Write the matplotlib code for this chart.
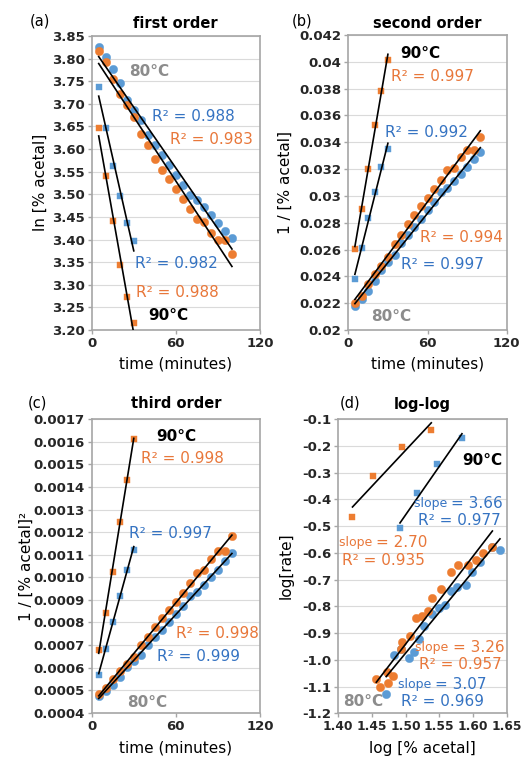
import numpy as np
import matplotlib
matplotlib.use("Agg")
import matplotlib.pyplot as plt

plt.rcParams['font.family'] = ['DejaVu Sans']

# ---------------- data ----------------
t80 = [5, 10, 15, 20, 25, 30, 35, 40, 45, 50, 55, 60, 65, 70, 75, 80, 85, 90, 95, 100]
t90 = [5, 10, 15, 20, 25, 30]

# (a) first order: ln[% acetal]
ln80_blue = [3.826, 3.803, 3.776, 3.745, 3.709, 3.686, 3.664, 3.631, 3.609, 3.587,
             3.565, 3.543, 3.521, 3.498, 3.487, 3.471, 3.454, 3.437, 3.419, 3.403]
ln80_orange = [3.817, 3.792, 3.755, 3.722, 3.697, 3.672, 3.633, 3.609, 3.578, 3.554,
               3.533, 3.511, 3.490, 3.467, 3.445, 3.439, 3.414, 3.399, 3.399, 3.369]
ln90_blue = [3.737, 3.646, 3.563, 3.496, 3.437, 3.397]
ln90_orange = [3.647, 3.541, 3.442, 3.344, 3.274, 3.215]

# (b) second order: 1/[% acetal]
inv80_blue = [0.02180, 0.02230, 0.02291, 0.02364, 0.02450, 0.02507, 0.02563, 0.02649, 0.02708, 0.02768,
              0.02830, 0.02893, 0.02957, 0.03026, 0.03059, 0.03109, 0.03162, 0.03216, 0.03275, 0.03327]
inv80_orange = [0.02199, 0.02255, 0.02340, 0.02419, 0.02480, 0.02543, 0.02644, 0.02708, 0.02793, 0.02861,
                0.02922, 0.02987, 0.03050, 0.03121, 0.03191, 0.03210, 0.03291, 0.03341, 0.03341, 0.03442]
inv90_blue = [0.02383, 0.02610, 0.02835, 0.03032, 0.03216, 0.03348]
inv90_orange = [0.02607, 0.02899, 0.03200, 0.03530, 0.03785, 0.04016]

# (c) third order: 1/[% acetal]^2
inv2_80_blue = [0.0004752, 0.0004973, 0.0005249, 0.0005588, 0.0006003, 0.0006285, 0.0006569, 0.0007017,
                0.0007333, 0.0007662, 0.0008009, 0.0008369, 0.0008744, 0.0009157, 0.0009357, 0.0009666,
                0.0009998, 0.0010343, 0.0010726, 0.0011069]
inv2_80_orange = [0.0004836, 0.0005085, 0.0005476, 0.0005852, 0.0006150, 0.0006467, 0.0006991, 0.0007333,
                  0.0007801, 0.0008185, 0.0008538, 0.0008922, 0.0009303, 0.0009741, 0.0010183, 0.0010304,
                  0.0010831, 0.0011162, 0.0011162, 0.0011847]
inv2_90_blue = [0.000568, 0.000681, 0.000804, 0.000919, 0.001034, 0.001121]
inv2_90_orange = [0.000680, 0.000840, 0.001024, 0.001246, 0.001433, 0.001613]

# (d) log-log
logc80_orange = [1.4565, 1.4624, 1.4726, 1.4735, 1.4809, 1.4932, 1.4947, 1.5065, 1.5153, 1.5241,
                 1.5338, 1.5397, 1.5521, 1.5668, 1.5779, 1.5927, 1.6044, 1.6157, 1.6290]
logr80_orange = [-1.073, -1.103, -1.044, -1.088, -1.062, -0.960, -0.932, -0.910, -0.844, -0.836,
                 -0.817, -0.770, -0.736, -0.672, -0.645, -0.645, -0.626, -0.599, -0.578]
logc80_blue = [1.4712, 1.4834, 1.4930, 1.5054, 1.5128, 1.5197, 1.5275, 1.5388, 1.5496, 1.5584,
               1.5682, 1.5765, 1.5897, 1.5985, 1.6100, 1.6280, 1.6403]
logr80_blue = [-1.128, -0.982, -0.960, -0.994, -0.969, -0.923, -0.873, -0.828, -0.807, -0.795,
               -0.741, -0.728, -0.720, -0.670, -0.635, -0.578, -0.588]
logc90_orange = [1.4211, 1.4515, 1.4946, 1.5382]
logr90_orange = [-0.464, -0.312, -0.202, -0.140]
logc90_blue = [1.4917, 1.5176, 1.5470, 1.5838]
logr90_blue = [-0.508, -0.377, -0.267, -0.171]

# tick labels
time_ticks = [0, 60, 120]
a_yticks = ['3.20', '3.25', '3.30', '3.35', '3.40', '3.45', '3.50', '3.55', '3.60', '3.65', '3.70', '3.75', '3.80', '3.85']
b_yticks = ['0.02', '0.022', '0.024', '0.026', '0.028', '0.03', '0.032', '0.034', '0.036', '0.038', '0.04', '0.042']
c_yticks = ['0.0004', '0.0005', '0.0006', '0.0007', '0.0008', '0.0009', '0.0010', '0.0011', '0.0012',
            '0.0013', '0.0014', '0.0015', '0.0016', '0.0017']
d_yticks = ['-1.2', '-1.1', '-1.0', '-0.9', '-0.8', '-0.7', '-0.6', '-0.5', '-0.4', '-0.3', '-0.2', '-0.1']
d_xticks = ['1.40', '1.45', '1.50', '1.55', '1.60', '1.65']

# ---------------- style ----------------
BLUE = '#5b9bd5'
ORANGE = '#ed7d31'
BLUE_T = '#3573c2'
ORANGE_T = '#e8773a'
GRAY_T = '#8c8c8c'
FRAME = '#a6a6a6'
GRID = '#dadada'

W, H = 523, 758
fig = plt.figure(figsize=(W / 100, H / 100), dpi=100)


def axes_px(left, top, right, bottom):
    return fig.add_axes([left / W, 1 - bottom / H, (right - left) / W, (bottom - top) / H])


def style(ax, yt_labels, xt_labels=None, xsize=9.5):
    yv = [float(s) for s in yt_labels]
    ax.set_yticks(yv)
    ax.set_yticklabels(yt_labels)
    ax.set_ylim(yv[0], yv[-1])
    if xt_labels is None:
        ax.set_xticks(time_ticks)
        ax.set_xticklabels([str(v) for v in time_ticks])
        ax.set_xlim(time_ticks[0], time_ticks[-1])
    else:
        xv = [float(s) for s in xt_labels]
        ax.set_xticks(xv)
        ax.set_xticklabels(xt_labels)
        ax.set_xlim(xv[0], xv[-1])
    ax.grid(axis='y', color=GRID, lw=0.8)
    ax.set_axisbelow(True)
    for sp in ax.spines.values():
        sp.set_color(FRAME)
        sp.set_linewidth(1.2)
    ax.tick_params(axis='both', colors=FRAME, length=3, width=1.0, pad=2,
                   labelsize=9.5, labelcolor='#262626')
    ax.tick_params(axis='x', labelsize=xsize)
    for lab in ax.get_xticklabels() + ax.get_yticklabels():
        lab.set_fontweight('bold')


def scatter(ax, x, y, color, marker):
    if marker == 'o':
        ax.plot(x, y, 'o', color=color, ms=6.0, mec=color, mew=0.3, zorder=3)
    else:
        ax.plot(x, y, 's', color=color, ms=5.0, mec=color, mew=0.3, zorder=3)


def trend(ax, x, y):
    x = np.asarray(x, float)
    y = np.asarray(y, float)
    k, b = np.polyfit(x, y, 1)
    xs = np.array([x.min(), x.max()])
    ax.plot(xs, k * xs + b, color='black', lw=1.2, zorder=4)


def txt(ax, x, y, s, color, ha='left', size=11, weight='normal'):
    ax.text(x, y, s, color=color, ha=ha, va='center', fontsize=size, fontweight=weight, zorder=5)


def panel(ax, x80, yb80, yo80, x90, yb90, yo90):
    scatter(ax, x80, yb80, BLUE, 'o')
    scatter(ax, x80, yo80, ORANGE, 'o')
    scatter(ax, x90, yb90, BLUE, 's')
    scatter(ax, x90, yo90, ORANGE, 's')
    trend(ax, x80, yb80)
    trend(ax, x80, yo80)
    trend(ax, x90, yb90)
    trend(ax, x90, yo90)


# ---------------- (a) ----------------
axa = axes_px(91.7, 36, 260, 330)
panel(axa, t80, ln80_blue, ln80_orange, t90, ln90_blue, ln90_orange)
style(axa, a_yticks)
txt(axa, 27, 3.772, '80°C', GRAY_T, weight='bold')
txt(axa, 102, 3.672, 'R² = 0.988', BLUE_T, ha='right')
txt(axa, 115, 3.621, 'R² = 0.983', ORANGE_T, ha='right')
txt(axa, 31, 3.347, 'R² = 0.982', BLUE_T)
txt(axa, 31.5, 3.282, 'R² = 0.988', ORANGE_T)
txt(axa, 40, 3.233, '90°C', 'black', weight='bold')

# ---------------- (b) ----------------
axb = axes_px(348.3, 35, 506.7, 330)
panel(axb, t80, inv80_blue, inv80_orange, t90, inv90_blue, inv90_orange)
style(axb, b_yticks)
txt(axb, 39, 0.04064, '90°C', 'black', weight='bold')
txt(axb, 32, 0.03889, 'R² = 0.997', ORANGE_T)
txt(axb, 28, 0.03474, 'R² = 0.992', BLUE_T)
txt(axb, 117, 0.02691, 'R² = 0.994', ORANGE_T, ha='right')
txt(axb, 103, 0.02485, 'R² = 0.997', BLUE_T, ha='right')
txt(axb, 17, 0.02104, '80°C', GRAY_T, weight='bold')

# ---------------- (c) ----------------
axc = axes_px(91.7, 419.3, 260, 712.7)
panel(axc, t80, inv2_80_blue, inv2_80_orange, t90, inv2_90_blue, inv2_90_orange)
style(axc, c_yticks)
txt(axc, 46, 0.001623, '90°C', 'black', weight='bold')
txt(axc, 35.5, 0.001527, 'R² = 0.998', ORANGE_T)
txt(axc, 26.5, 0.001195, 'R² = 0.997', BLUE_T)
txt(axc, 119, 0.000752, 'R² = 0.998', ORANGE_T, ha='right')
txt(axc, 106, 0.000651, 'R² = 0.999', BLUE_T, ha='right')
txt(axc, 25.5, 0.000444, '80°C', GRAY_T, weight='bold')

# ---------------- (d) ----------------
axd = axes_px(338.3, 419.3, 506.5, 713.3)
scatter(axd, logc80_blue, logr80_blue, BLUE, 'o')
scatter(axd, logc80_orange, logr80_orange, ORANGE, 'o')
scatter(axd, logc90_orange, logr90_orange, ORANGE, 's')
scatter(axd, logc90_blue, logr90_blue, BLUE, 's')
trend(axd, logc80_blue, logr80_blue)
trend(axd, logc80_orange, logr80_orange)
trend(axd, logc90_orange, logr90_orange)
trend(axd, logc90_blue, logr90_blue)
style(axd, d_yticks, d_xticks, xsize=8.8)


def slope_label(ax, xr, y, value, color):
    t = ax.text(xr, y, '= ' + value, color=color, ha='right', va='center', fontsize=11, zorder=5)
    ax.annotate('slope ', xy=(0, 0.5), xycoords=t, ha='right', va='center',
                color=color, fontsize=9, zorder=5)


txt(axd, 1.5848, -0.255, '90°C', 'black', weight='bold')
slope_label(axd, 1.645, -0.414, '3.66', BLUE_T)
txt(axd, 1.642, -0.4805, 'R² = 0.977', BLUE_T, ha='right')
slope_label(axd, 1.533, -0.562, '2.70', ORANGE_T)
txt(axd, 1.529, -0.630, 'R² = 0.935', ORANGE_T, ha='right')
slope_label(axd, 1.6466, -0.953, '3.26', ORANGE_T)
txt(axd, 1.6426, -1.019, 'R² = 0.957', ORANGE_T, ha='right')
slope_label(axd, 1.6206, -1.0915, '3.07', BLUE_T)
txt(axd, 1.6172, -1.157, 'R² = 0.969', BLUE_T, ha='right')
txt(axd, 1.4074, -1.157, '80°C', GRAY_T, weight='bold')

# ---------------- titles / labels ----------------
def ftxt(x, y, s, **kw):
    fig.text(x / W, 1 - y / H, s, **kw)


ftxt(175.8, 23, 'first order', ha='center', va='center', fontsize=10.5, fontweight='bold')
ftxt(427.5, 23, 'second order', ha='center', va='center', fontsize=10.5, fontweight='bold')
ftxt(175.8, 404, 'third order', ha='center', va='center', fontsize=10.5, fontweight='bold')
ftxt(422.4, 404, 'log-log', ha='center', va='center', fontsize=10.5, fontweight='bold')

ftxt(30, 21, '(a)', ha='left', va='center', fontsize=10.5)
ftxt(292, 21, '(b)', ha='left', va='center', fontsize=10.5)
ftxt(28, 403, '(c)', ha='left', va='center', fontsize=10.5)
ftxt(340, 403, '(d)', ha='left', va='center', fontsize=10.5)

ftxt(40, 182, 'ln [% acetal]', ha='center', va='center', rotation=90, fontsize=11)
ftxt(285, 182, '1 / [% acetal]', ha='center', va='center', rotation=90, fontsize=11)
ftxt(26, 566, '1 / [% acetal]²', ha='center', va='center', rotation=90, fontsize=11)
ftxt(286, 566, 'log[rate]', ha='center', va='center', rotation=90, fontsize=11)

ftxt(175.8, 364, 'time (minutes)', ha='center', va='center', fontsize=11)
ftxt(427.5, 364, 'time (minutes)', ha='center', va='center', fontsize=11)
ftxt(175.8, 748, 'time (minutes)', ha='center', va='center', fontsize=11)
ftxt(422.4, 748, 'log [% acetal]', ha='center', va='center', fontsize=11)

fig.savefig('out.png', dpi=100, facecolor='white')
